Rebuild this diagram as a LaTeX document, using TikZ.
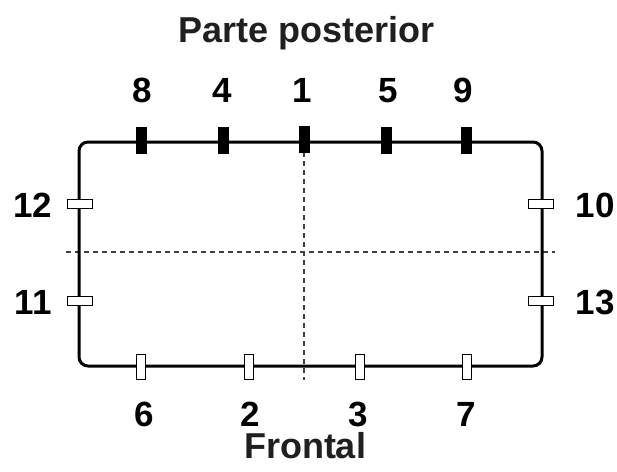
\documentclass[tikz,border=0pt]{standalone}
\usepackage{fontspec}
\setmainfont{Liberation Sans}
\begin{document}
\begin{tikzpicture}[x=1pt,y=-1pt,
  lbl/.style={font=\fontsize{35}{38}\selectfont\bfseries, inner sep=0pt, anchor=base},
  ttl/.style={font=\fontsize{36}{40}\selectfont\bfseries, inner sep=0pt, text=black!88, anchor=base},
  topmark/.style={fill=black, draw=none, minimum width=11pt, minimum height=27pt, inner sep=0pt},
  sidemark/.style={fill=white, draw=black, line width=1pt, minimum width=25pt, minimum height=9pt, inner sep=0pt},
  botmark/.style={fill=white, draw=black, line width=1pt, minimum width=9pt, minimum height=25pt, inner sep=0pt},
  frame/.style={draw=black, line width=3pt, rounded corners=9pt, minimum width=463pt, minimum height=224pt, inner sep=0pt},
  guide/.style={draw=black!75, line width=1.1pt, dash pattern=on 5pt off 4pt}]
\useasboundingbox (0,0) rectangle (617,471);
% guides
\coordinate (vt) at (304,152);
\coordinate (vb) at (304,380);
\coordinate (hl) at (66,252);
\coordinate (hr) at (555,252);
\draw[guide] (vt) -- (vb);
\draw[guide] (hl) -- (hr);
% frame
\node[frame] (box) at (310.5,254) {};
% top marks
\node[topmark] (m8) at (141,140) {};
\node[topmark] (m4) at (223,140) {};
\node[topmark] (m1) at (304,139) {};
\node[topmark] (m5) at (386,140) {};
\node[topmark] (m9) at (466,140) {};
% side marks
\node[sidemark] (m12) at (80,204) {};
\node[sidemark] (m11) at (80,301) {};
\node[sidemark] (m10) at (541,204) {};
\node[sidemark] (m13) at (541,301) {};
% bottom marks
\node[botmark] (m6) at (141,367) {};
\node[botmark] (m2) at (249,367) {};
\node[botmark] (m3) at (360,367) {};
\node[botmark] (m7) at (467,367) {};
% labels
\node[ttl] (title) at (307,42) {Parte posterior};
\node[ttl] (front) at (305,458) {Frontal};
\node[lbl] (l8) at (142,102) {8};
\node[lbl] (l4) at (222,102) {4};
\node[lbl] (l1) at (302,102) {1};
\node[lbl] (l5) at (388,102) {5};
\node[lbl] (l9) at (463,102) {9};
\node[lbl] (l12) at (33,217) {12};
\node[lbl] (l11) at (33,314) {11};
\node[lbl] (l10) at (595,217) {10};
\node[lbl] (l13) at (595,314) {13};
\node[lbl] (l6) at (144,426) {6};
\node[lbl] (l2) at (250,426) {2};
\node[lbl] (l3) at (358,426) {3};
\node[lbl] (l7) at (466,426) {7};
\end{tikzpicture}
\end{document}
